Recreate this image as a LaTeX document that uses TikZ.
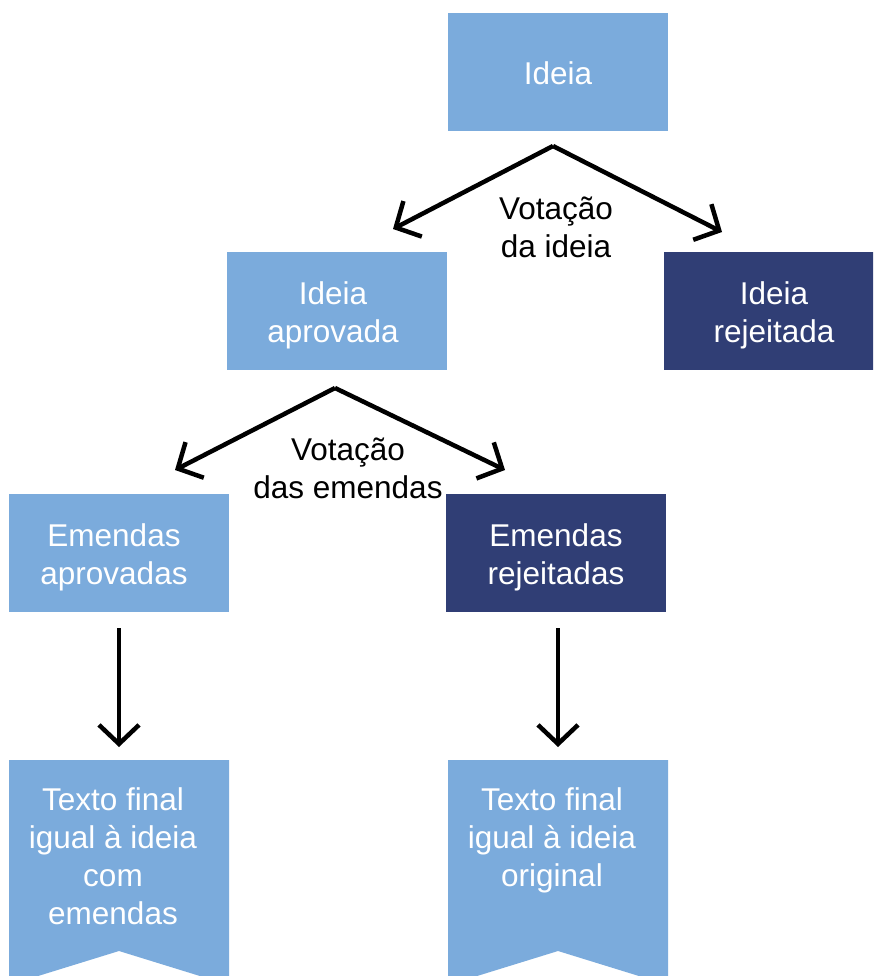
\documentclass[tikz,border=0pt]{standalone}
\usepackage{fontspec}
\setmainfont{Liberation Sans}
\usetikzlibrary{arrows.meta}
\definecolor{lightb}{HTML}{7BABDC}
\definecolor{darkb}{HTML}{303E75}
\tikzset{
  txtfont/.style={font=\fontsize{31.5}{38}\selectfont},
  box/.style={minimum width=220pt, minimum height=118pt, inner sep=0pt},
  lbox/.style={box, fill=lightb},
  dbox/.style={box, fill=darkb},
  intext/.style={align=center, text=white, txtfont, inner sep=0pt, yshift=-4.5pt},
  lbl/.style={align=center, text=black, txtfont, inner sep=0pt},
  btxt/.style={align=center, text=white, txtfont, inner sep=0pt},
  conn/.style={line width=4.5pt, -{Straight Barb[length=19pt,width=40pt,line width=4.5pt]}, line join=miter},
}
\begin{document}
\begin{tikzpicture}[x=1pt,y=-1pt]
\useasboundingbox (0,0) rectangle (873,976);
\clip (0,0) rectangle (873,976);
\node[lbox, label={[intext, yshift=3.5pt]center:Ideia}] (ideia) at (558,72) {};
\node[lbox, label={[intext, xshift=-4pt]center:Ideia\\aprovada}] (aprov) at (337,311) {};
\node[dbox, label={[intext]center:Ideia\\rejeitada}] (rej) at (774,311) {};
\node[lbox, label={[intext, xshift=-5pt]center:Emendas\\aprovadas}] (eaprov) at (119,553) {};
\node[dbox, label={[intext]center:Emendas\\rejeitadas}] (erej) at (556,553) {};
% banners
\fill[lightb] (9,760) -- (229,760) -- (229,985) -- (119,951) -- (9,985) -- cycle;
\fill[lightb] (448,760) -- (668,760) -- (668,985) -- (558,951) -- (448,985) -- cycle;
\node[btxt] (fin1) at (113,856) {Texto final\\igual à ideia\\com\\emendas};
\node[btxt] (fin2) at (552,840) {Texto final\\igual à ideia\\original};
% labels
\node[lbl] (v1) at (556,227) {Votação\\da ideia};
\node[lbl] (v2) at (348,468) {Votação\\das emendas};
% connector points
\coordinate (p1) at (553,146);
\coordinate (t1a) at (393,229);
\coordinate (t1b) at (722,232);
\coordinate (p2) at (335,388);
\coordinate (t2a) at (175,470);
\coordinate (t2b) at (505,470);
\coordinate (s3) at (119,628);
\coordinate (t3) at (119,747);
\coordinate (s4) at (558,628);
\coordinate (t4) at (558,747);
\draw[conn] (p1) -- (t1a);
\draw[conn] (p1) -- (t1b);
\draw[conn] (p2) -- (t2a);
\draw[conn] (p2) -- (t2b);
\draw[conn] (s3) -- (t3);
\draw[conn] (s4) -- (t4);
\end{tikzpicture}
\end{document}
